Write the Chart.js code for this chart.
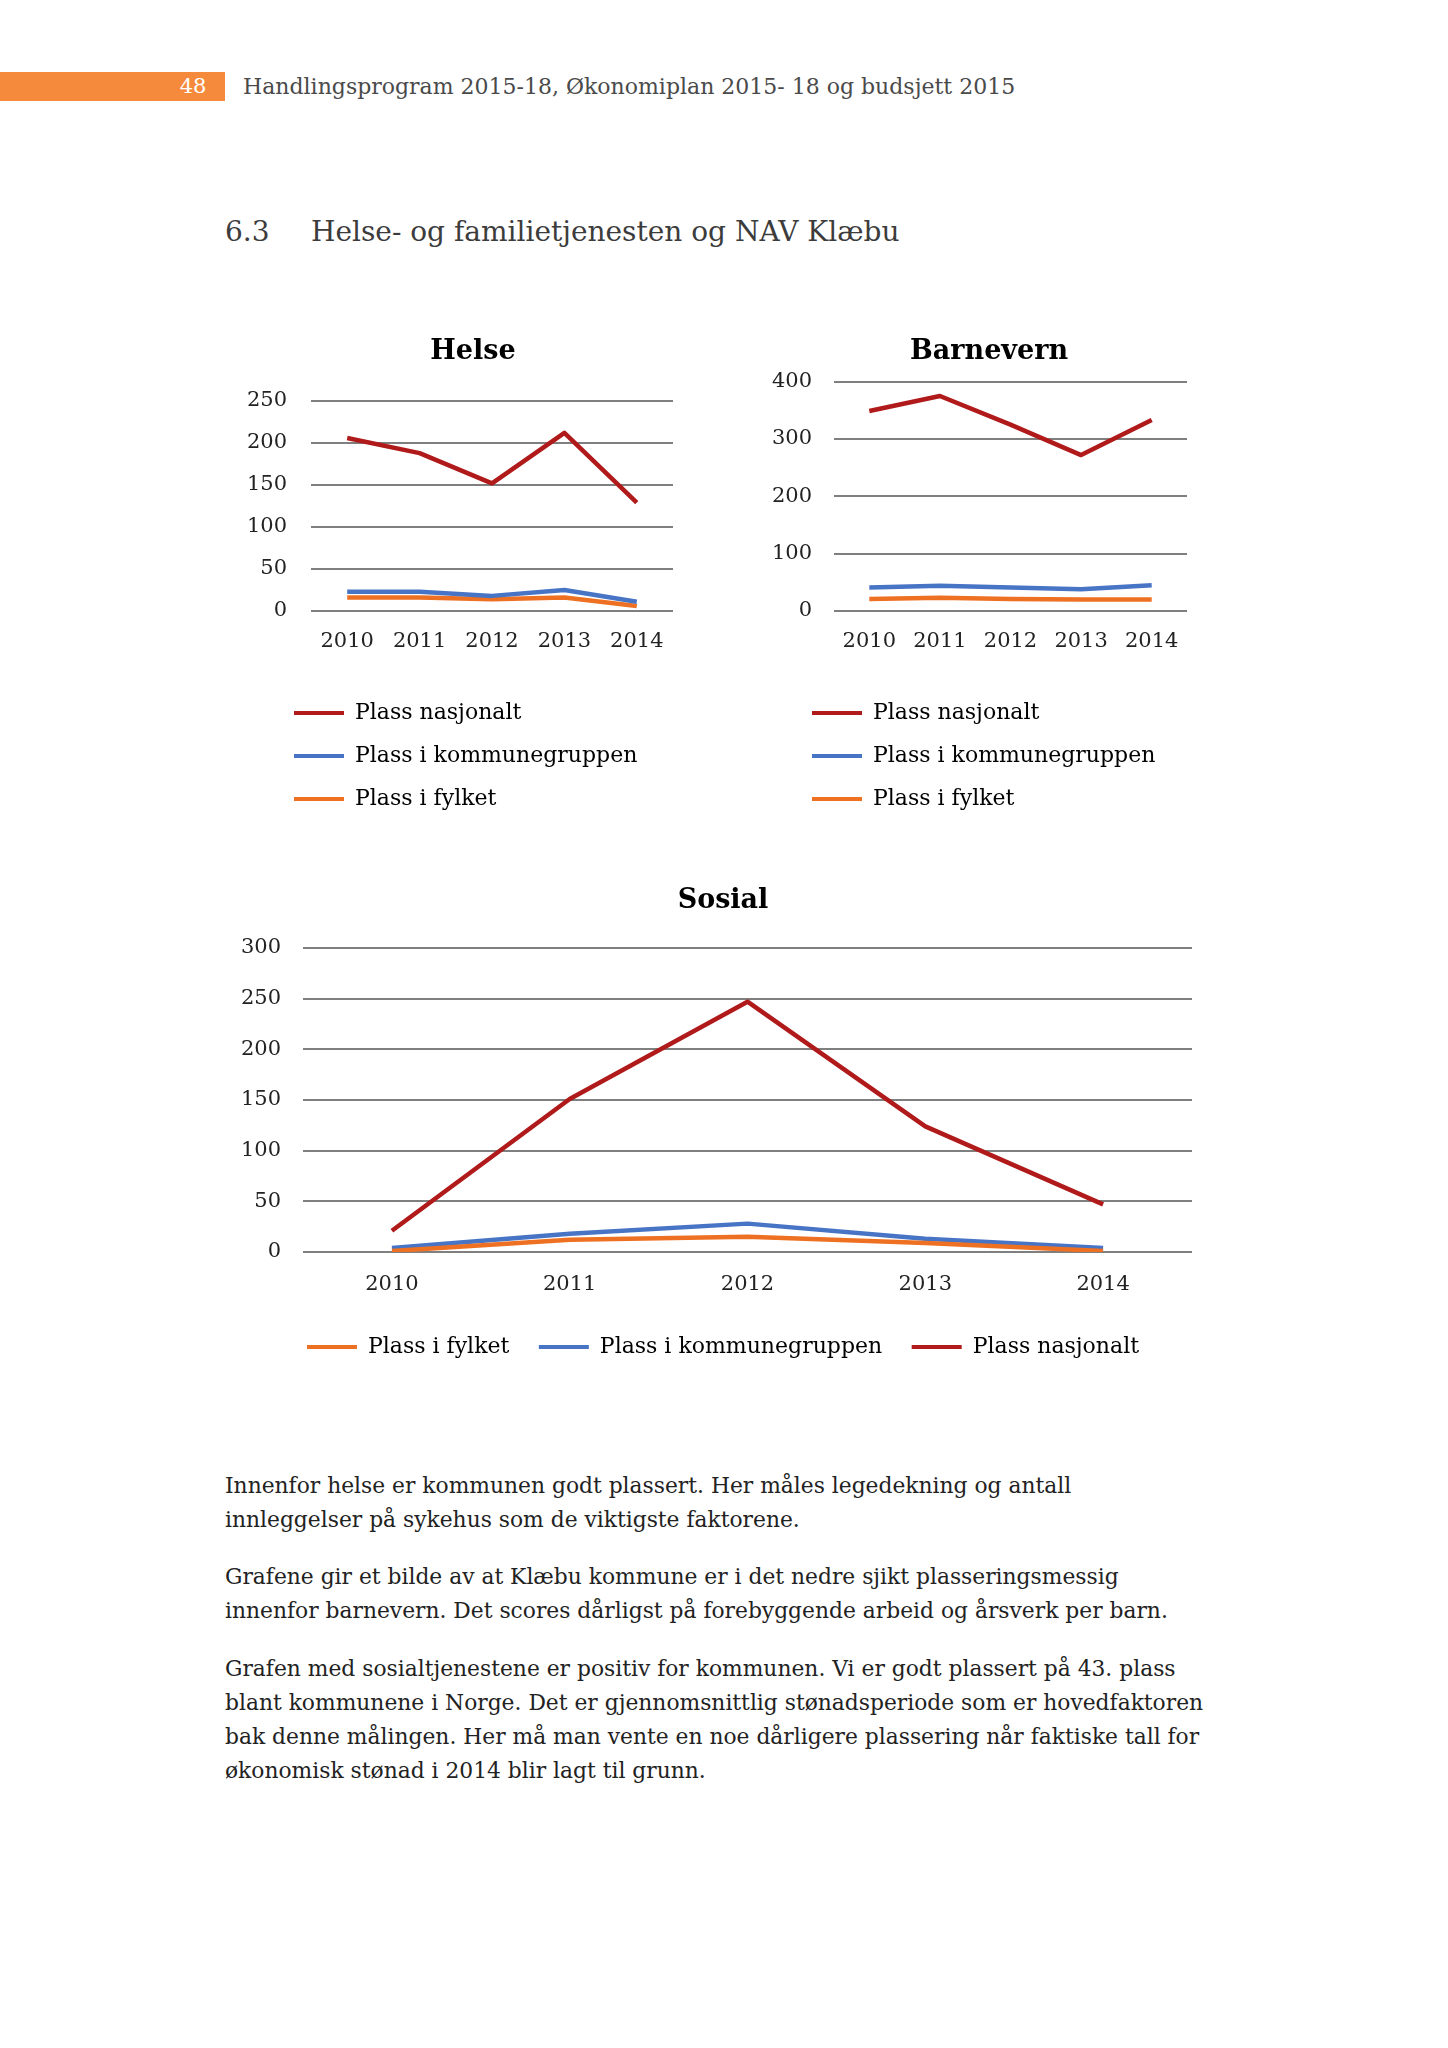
<!DOCTYPE html>
<html lang="no">
<head>
<meta charset="utf-8">
<script src="https://cdn.jsdelivr.net/npm/chart.js@4"></script>
<style>
  html, body { margin: 0; padding: 0; background: #fff; }
  body { width: 1448px; height: 2048px; position: relative; font-family: "DejaVu Serif", serif; }
  .abs { position: absolute; white-space: nowrap; }
  canvas { position: absolute; }
  #bar { left: 0; top: 72px; width: 225px; height: 29px; background: #f58a3c; }
  #sidetall { left: 175px; top: 72px; width: 36px; height: 29px; line-height: 29px; text-align: center; color: #fff; font-size: 21px; }
  #topptekst { left: 243px; top: 72px; line-height: 29px; font-size: 22px; color: #4a4a4a; }
  .overskrift { top: 215px; line-height: 34px; font-size: 28px; color: #3c3c3c; }
  .tekst { left: 225px; font-size: 21.8px; line-height: 34px; color: #222; }
</style>
</head>
<body>
<div id="bar" class="abs"></div>
<div id="sidetall" class="abs">48</div>
<div id="topptekst" class="abs">Handlingsprogram 2015-18, Økonomiplan 2015- 18 og budsjett 2015</div>
<div class="abs overskrift" style="left:225px">6.3</div>
<div class="abs overskrift" style="left:311px">Helse- og familietjenesten og NAV Klæbu</div>

<canvas id="helse" width="440" height="487" style="left:240px;top:333px"></canvas>
<canvas id="barnevern" width="440" height="487" style="left:760px;top:333px"></canvas>
<canvas id="sosial" width="960" height="486" style="left:240px;top:882px"></canvas>

<div class="abs tekst" style="top:1469px">Innenfor helse er kommunen godt plassert. Her måles legedekning og antall<br>innleggelser på sykehus som de viktigste faktorene.</div>
<div class="abs tekst" style="top:1560px">Grafene gir et bilde av at Klæbu kommune er i det nedre sjikt plasseringsmessig<br>innenfor barnevern. Det scores dårligst på forebyggende arbeid og årsverk per barn.</div>
<div class="abs tekst" style="top:1652px">Grafen med sosialtjenestene er positiv for kommunen. Vi er godt plassert på 43. plass<br>blant kommunene i Norge. Det er gjennomsnittlig stønadsperiode som er hovedfaktoren<br>bak denne målingen. Her må man vente en noe dårligere plassering når faktiske tall for<br>økonomisk stønad i 2014 blir lagt til grunn.</div>

<script>
// år og verdier lest av figuren
const aar = ['2010', '2011', '2012', '2013', '2014'];

const helseNasjonalt = [206, 188, 152, 212, 129];
const helseKommunegruppe = [23, 23, 18, 25, 11];
const helseFylket = [16, 16, 14, 16, 6];

const barnevernNasjonalt = [349, 375, 325, 272, 333];
const barnevernKommunegruppe = [41, 44, 41, 38, 45];
const barnevernFylket = [21, 23, 21, 20, 20];

const sosialFylket = [1, 12, 15, 9, 1];
const sosialKommunegruppe = [4, 18, 28, 13, 4];
const sosialNasjonalt = [21, 151, 247, 124, 47];

const RØD = '#b01a1a';
const BLÅ = '#4874c6';
const ORANSJE = '#ee7022';
const FONT = 'DejaVu Serif';
const TICKFONT = 21;

// bredeste y-etikett, brukes for å høyrestille speilede etiketter
function bredeste(maks) {
    const c = document.createElement('canvas').getContext('2d');
    c.font = TICKFONT + 'px "' + FONT + '"';
    return c.measureText(String(maks)).width;
}

function serie(navn, data, farge) {
    return {
        label: navn,
        data: data,
        borderColor: farge,
        backgroundColor: farge,
        borderWidth: 4.5,
        pointRadius: 0,
        tension: 0,
        borderJoinStyle: 'round',
    };
}

function lagGraf(id, tittel, serier, akse, oppsett) {
    const ctx = document.getElementById(id).getContext('2d');
    return new Chart(ctx, {
        type: 'line',
        data: { labels: aar, datasets: serier },
        options: {
            responsive: false,
            animation: false,
            devicePixelRatio: 1,
            layout: { padding: { left: oppsett.padV, right: oppsett.padH, top: 0, bottom: 0 } },
            plugins: {
                title: {
                    display: true,
                    text: tittel,
                    color: '#000',
                    font: { family: FONT, size: 27, weight: 'bold', lineHeight: 1.2 },
                    padding: { top: 3, bottom: oppsett.tittelAvstand - 3 },
                },
                legend: {
                    position: 'bottom',
                    align: oppsett.legendJustering,
                    labels: {
                        color: '#222',
                        font: { family: FONT, size: 22 },
                        boxWidth: 50,
                        boxHeight: 4,
                        padding: oppsett.legendPadding,
                        generateLabels: (chart) => chart.data.datasets.map((ds, i) => ({
                            text: ds.label,
                            fillStyle: ds.borderColor,
                            strokeStyle: ds.borderColor,
                            lineWidth: 0,
                            datasetIndex: i,
                        })),
                    },
                },
                tooltip: { enabled: false },
            },
            scales: {
                x: {
                    offset: true,
                    grid: { display: false, drawTicks: false },
                    border: { display: false },
                    ticks: { color: '#222', font: { family: FONT, size: TICKFONT }, padding: oppsett.xPadding },
                    afterFit: (skala) => {
                        skala.height = oppsett.xHoyde;
                        skala.paddingLeft = 0;
                        skala.paddingRight = 0;
                    },
                },
                y: {
                    min: 0,
                    max: akse.max,
                    grid: { color: '#7f7f7f', lineWidth: 2, drawTicks: false },
                    border: { display: false },
                    ticks: {
                        stepSize: akse.steg,
                        color: '#222',
                        font: { family: FONT, size: TICKFONT },
                        mirror: true,
                        crossAlign: 'far',
                        padding: -(oppsett.yPadding + bredeste(akse.max)),
                    },
                    afterFit: (skala) => { skala.width = oppsett.yBredde; },
                },
            },
        },
    });
}

lagGraf('helse', 'Helse', [
    serie('Plass nasjonalt', helseNasjonalt, RØD),
    serie('Plass i kommunegruppen', helseKommunegruppe, BLÅ),
    serie('Plass i fylket', helseFylket, ORANSJE),
], { max: 250, steg: 50 }, {
    padV: 33, padH: 7, tittelAvstand: 35.6, legendJustering: 'start', legendPadding: 21,
    xPadding: 18.4, xHoyde: 70, yPadding: 24, yBredde: 38,
});

lagGraf('barnevern', 'Barnevern', [
    serie('Plass nasjonalt', barnevernNasjonalt, RØD),
    serie('Plass i kommunegruppen', barnevernKommunegruppe, BLÅ),
    serie('Plass i fylket', barnevernFylket, ORANSJE),
], { max: 400, steg: 100 }, {
    padV: 31, padH: 13, tittelAvstand: 16.3, legendJustering: 'start', legendPadding: 21,
    xPadding: 18.4, xHoyde: 70, yPadding: 22, yBredde: 43,
});

lagGraf('sosial', 'Sosial', [
    serie('Plass i fylket', sosialFylket, ORANSJE),
    serie('Plass i kommunegruppen', sosialKommunegruppe, BLÅ),
    serie('Plass nasjonalt', sosialNasjonalt, RØD),
], { max: 300, steg: 50 }, {
    padV: 14, padH: 8, tittelAvstand: 33.6, legendJustering: 'center', legendPadding: 29.5,
    xPadding: 20.4, xHoyde: 54.5, yPadding: 22, yBredde: 49,
});
</script>
</body>
</html>
